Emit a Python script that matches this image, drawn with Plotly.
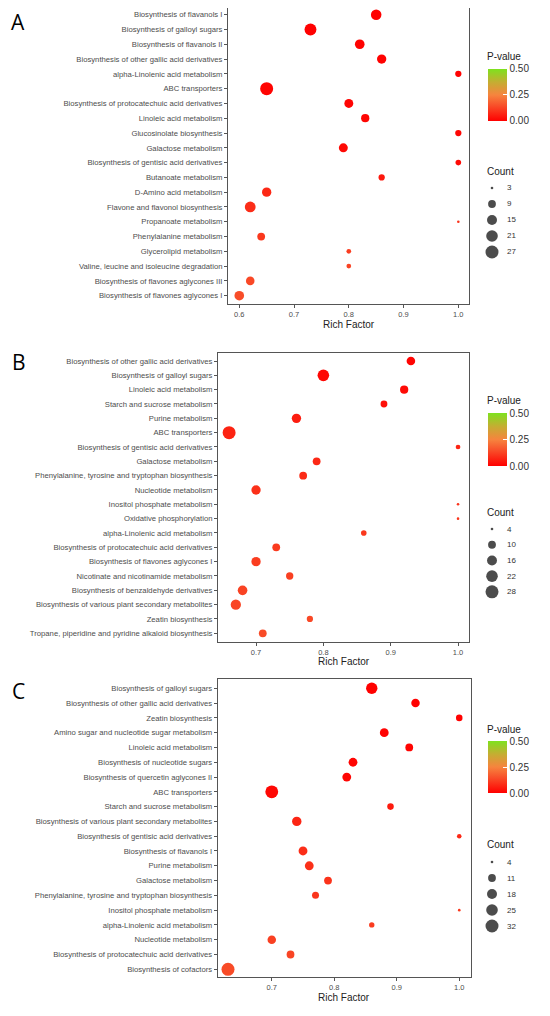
import numpy as np
import plotly.graph_objects as go

# page is 550x1016; the html body has an 8px margin, so the figure is 534x1000
PAGE_W, PAGE_H, OFF = 550, 1016, 8
W, H = PAGE_W - 2 * OFF, PAGE_H - 2 * OFF

# ---------------- Data ----------------
a_pathways = [
    "Biosynthesis of flavanols I", "Biosynthesis of galloyl sugars", "Biosynthesis of flavanols II",
    "Biosynthesis of other gallic acid derivatives", "alpha-Linolenic acid metabolism", "ABC transporters",
    "Biosynthesis of protocatechuic acid derivatives", "Linoleic acid metabolism", "Glucosinolate biosynthesis",
    "Galactose metabolism", "Biosynthesis of gentisic acid derivatives", "Butanoate metabolism",
    "D-Amino acid metabolism", "Flavone and flavonol biosynthesis", "Propanoate metabolism",
    "Phenylalanine metabolism", "Glycerolipid metabolism", "Valine, leucine and isoleucine degradation",
    "Biosynthesis of flavones aglycones III", "Biosynthesis of flavones aglycones I"]
a_rich = [0.85, 0.73, 0.82, 0.86, 1.00, 0.65, 0.80, 0.83, 1.00, 0.79,
          1.00, 0.86, 0.65, 0.62, 1.00, 0.64, 0.80, 0.80, 0.62, 0.60]
a_count = [17, 22, 14, 13, 6, 27, 12, 10, 6, 12, 5, 6, 13, 18, 3, 9, 4, 4, 11, 14]
a_pvalue = [0.001, 0.002, 0.003, 0.004, 0.006, 0.008, 0.010, 0.012, 0.014, 0.016,
            0.020, 0.045, 0.075, 0.085, 0.095, 0.105, 0.115, 0.125, 0.135, 0.145]
a_count_breaks = [3, 9, 15, 21, 27]

b_pathways = [
    "Biosynthesis of other gallic acid derivatives", "Biosynthesis of galloyl sugars", "Linoleic acid metabolism",
    "Starch and sucrose metabolism", "Purine metabolism", "ABC transporters",
    "Biosynthesis of gentisic acid derivatives", "Galactose metabolism",
    "Phenylalanine, tyrosine and tryptophan biosynthesis", "Nucleotide metabolism",
    "Inositol phosphate metabolism", "Oxidative phosphorylation", "alpha-Linolenic acid metabolism",
    "Biosynthesis of protocatechuic acid derivatives", "Biosynthesis of flavones aglycones I",
    "Nicotinate and nicotinamide metabolism", "Biosynthesis of benzaldehyde derivatives",
    "Biosynthesis of various plant secondary metabolites", "Zeatin biosynthesis",
    "Tropane, piperidine and pyridine alkaloid biosynthesis"]
b_rich = [0.93, 0.80, 0.92, 0.89, 0.76, 0.66, 1.00, 0.79, 0.77, 0.70,
          1.00, 1.00, 0.86, 0.73, 0.70, 0.75, 0.68, 0.67, 0.78, 0.71]
b_count = [12, 22, 11, 8, 14, 28, 5, 10, 10, 14, 4, 4, 6, 10, 14, 9, 15, 17, 7, 10]
b_pvalue = [0.010, 0.015, 0.020, 0.030, 0.055, 0.065, 0.070, 0.075, 0.080, 0.090,
            0.095, 0.100, 0.105, 0.110, 0.115, 0.120, 0.125, 0.130, 0.135, 0.140]
b_count_breaks = [4, 10, 16, 22, 28]

c_pathways = [
    "Biosynthesis of galloyl sugars", "Biosynthesis of other gallic acid derivatives", "Zeatin biosynthesis",
    "Amino sugar and nucleotide sugar metabolism", "Linoleic acid metabolism",
    "Biosynthesis of nucleotide sugars", "Biosynthesis of quercetin aglycones II", "ABC transporters",
    "Starch and sucrose metabolism", "Biosynthesis of various plant secondary metabolites",
    "Biosynthesis of gentisic acid derivatives", "Biosynthesis of flavanols I", "Purine metabolism",
    "Galactose metabolism", "Phenylalanine, tyrosine and tryptophan biosynthesis",
    "Inositol phosphate metabolism", "alpha-Linolenic acid metabolism", "Nucleotide metabolism",
    "Biosynthesis of protocatechuic acid derivatives", "Biosynthesis of cofactors"]
c_rich = [0.86, 0.93, 1.00, 0.88, 0.92, 0.83, 0.82, 0.70, 0.89, 0.74,
          1.00, 0.75, 0.76, 0.79, 0.77, 1.00, 0.86, 0.70, 0.73, 0.63]
c_count = [24, 13, 8, 14, 11, 14, 14, 31, 8, 16, 5, 14, 14, 11, 9, 4, 6, 13, 11, 32]
c_pvalue = [0.001, 0.002, 0.004, 0.006, 0.008, 0.010, 0.012, 0.015, 0.050, 0.070,
            0.075, 0.085, 0.090, 0.095, 0.100, 0.105, 0.110, 0.120, 0.130, 0.140]
c_count_breaks = [4, 11, 18, 25, 32]

pvalue_ticks = [0.0, 0.25, 0.5]
pvalue_ticktext = ["0.00", "0.25", "0.50"]
x_ticks = [0.6, 0.7, 0.8, 0.9, 1.0]

# ---------------- Style / layout ----------------
colorscale = [[0.0, "#FF0000"], [0.3, "#F8502A"], [0.5, "#F6843E"],
              [0.75, "#C4AE32"], [1.0, "#7EE21E"]]
FONT = "Liberation Sans, Arial, sans-serif"
D_MIN, D_MAX = 2.6, 13.0


def diam(counts, lo, hi):
    c = np.asarray(counts, dtype=float)
    return D_MIN + (D_MAX - D_MIN) * np.sqrt((c - lo) / (hi - lo))


def px(x):
    return (x - OFF) / W


def py(y):
    return min(1.0, max(0.0, 1 - (y - OFF) / H))


panels = [
    dict(label="A", path=a_pathways, rich=a_rich, count=a_count, p=a_pvalue, breaks=a_count_breaks,
         x0=228, x1=469, y0=8, y1=304, rows=(14.7, 295.7), xr=[0.5794, 1.0195], letter=(9, 22.5),
         cb=(69, 120.7), ptitle=56, ctitle=171, items=(180, 16), rf=324),
    dict(label="B", path=b_pathways, rich=b_rich, count=b_count, p=b_pvalue, breaks=b_count_breaks,
         x0=218, x1=469, y0=352.7, y1=641.7, rows=(361, 633.3), xr=[0.6435, 1.0163], letter=(10, 362),
         cb=(413.3, 466), ptitle=400.7, ctitle=512, items=(521.2, 15.7), rf=661.5),
    dict(label="C", path=c_pathways, rich=c_rich, count=c_count, p=c_pvalue, breaks=c_count_breaks,
         x0=217.7, x1=471, y0=679.3, y1=977.3, rows=(688.3, 969.3), xr=[0.6135, 1.0188], letter=(10, 691),
         cb=(741.3, 793.3), ptitle=729.3, ctitle=844, items=(854, 16), rf=997.5),
]

fig = go.Figure()
layout = dict(width=W, height=H, margin=dict(l=0, r=0, t=0, b=0),
              paper_bgcolor="white", plot_bgcolor="white", showlegend=False,
              font=dict(family=FONT, color="#333333"))
annotations = []

for i, pn in enumerate(panels):
    k = i + 1
    xa = "x" if k == 1 else f"x{k}"
    ya = "y" if k == 1 else f"y{k}"
    ca = "coloraxis" if k == 1 else f"coloraxis{k}"
    lo, hi = min(pn["count"]), max(pn["count"])
    fig.add_trace(go.Scatter(
        x=pn["rich"], y=pn["path"], mode="markers", xaxis=xa, yaxis=ya,
        marker=dict(size=diam(pn["count"], lo, hi), color=pn["p"], coloraxis=ca,
                    line=dict(width=0), opacity=1),
        hovertemplate="%{y}<br>Rich Factor %{x}<extra></extra>"))
    n = len(pn["path"])
    first, last = pn["rows"]
    step_px = (last - first) / (n - 1)
    yr = [n - 1 + (pn["y1"] - last) / step_px, -(first - pn["y0"]) / step_px]
    axis_common = dict(showline=True, mirror=True, linecolor="#555555", linewidth=1,
                       showgrid=False, zeroline=False, ticks="outside", ticklen=3,
                       tickcolor="#555555", tickwidth=1)
    layout["xaxis" if k == 1 else f"xaxis{k}"] = dict(
        domain=[px(pn["x0"]), px(pn["x1"])], range=pn["xr"], anchor=ya,
        tickvals=x_ticks, tickformat=".1f",
        tickfont=dict(size=7.5, color="#4D4D4D", family=FONT), **axis_common)
    layout["yaxis" if k == 1 else f"yaxis{k}"] = dict(
        domain=[py(pn["y1"]), py(pn["y0"])], anchor=xa, type="category",
        categoryorder="array", categoryarray=pn["path"], range=yr,
        tickfont=dict(size=7.7, color="#4D4D4D", family=FONT), **axis_common)
    # colour bar
    cb0, cb1 = pn["cb"]
    layout[ca] = dict(
        cmin=0, cmax=0.5, colorscale=colorscale,
        colorbar=dict(thickness=19, thicknessmode="pixels", len=cb1 - cb0, lenmode="pixels",
                      x=px(488), xanchor="left", y=py((cb0 + cb1) / 2), yanchor="middle",
                      xpad=0, ypad=0, outlinewidth=0, tickvals=pvalue_ticks,
                      ticktext=pvalue_ticktext, ticks="inside", ticklen=4,
                      tickcolor="white", tickwidth=1,
                      tickfont=dict(size=10, color="#333333", family=FONT)))
    # size legend on its own small axis
    lk = k + 3
    lxa, lya = f"x{lk}", f"y{lk}"
    top, step = pn["items"]
    layout[f"xaxis{lk}"] = dict(domain=[px(480), px(540)], range=[0, 60], visible=False,
                                fixedrange=True, anchor=lya)
    layout[f"yaxis{lk}"] = dict(domain=[py(top + 5 * step), py(top)], range=[4.5, -0.5],
                                visible=False, fixedrange=True, anchor=lxa)
    idx = list(range(len(pn["breaks"])))
    fig.add_trace(go.Scatter(
        x=[12] * len(idx), y=idx, mode="markers", xaxis=lxa, yaxis=lya,
        marker=dict(size=diam(pn["breaks"], lo, hi), color="black", line=dict(width=0)),
        hoverinfo="skip"))
    for j, b in zip(idx, pn["breaks"]):
        annotations.append(dict(x=25, y=j, xref=lxa, yref=lya, text=str(b), showarrow=False,
                                xanchor="left", yanchor="middle",
                                font=dict(size=8, color="#333333", family=FONT)))
    # titles
    annotations.append(dict(x=px(485), y=py(pn["ptitle"]), xref="paper", yref="paper",
                            text="P-value", showarrow=False, xanchor="left", yanchor="middle",
                            font=dict(size=10, color="#222222", family=FONT)))
    annotations.append(dict(x=px(485), y=py(pn["ctitle"]), xref="paper", yref="paper",
                            text="Count", showarrow=False, xanchor="left", yanchor="middle",
                            font=dict(size=10, color="#222222", family=FONT)))
    annotations.append(dict(x=px((pn["x0"] + pn["x1"]) / 2), y=py(pn["rf"]), xref="paper",
                            yref="paper", text="Rich Factor", showarrow=False,
                            xanchor="center", yanchor="middle",
                            font=dict(size=10, color="#222222", family=FONT)))
    lx, ly = pn["letter"]
    annotations.append(dict(x=px(lx), y=py(ly), xref="paper", yref="paper", text=pn["label"],
                            showarrow=False, xanchor="left", yanchor="middle",
                            font=dict(size=21, color="black", family="Open Sans, sans-serif")))

layout["annotations"] = annotations
fig.update_layout(**layout)
fig.write_html("out.html")
